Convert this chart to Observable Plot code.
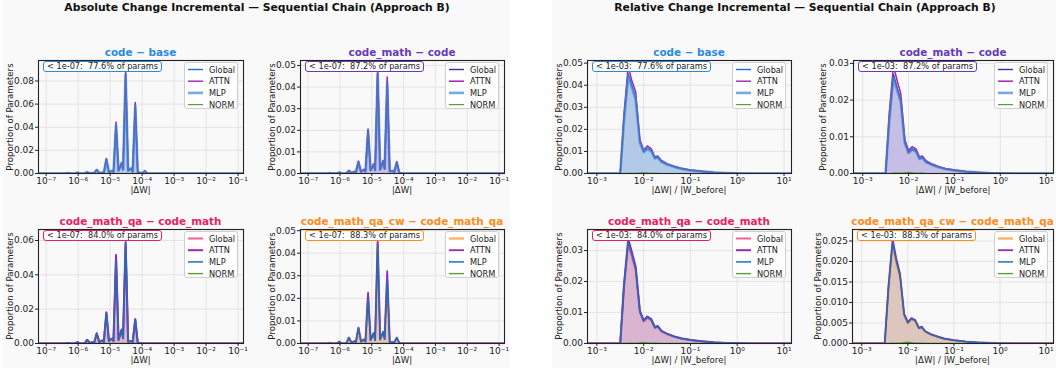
<!DOCTYPE html>
<html><head><meta charset="utf-8">
<script src="https://cdn.jsdelivr.net/npm/d3@7"></script>
<script src="https://cdn.jsdelivr.net/npm/@observablehq/plot@0.6"></script>
<style>
body{margin:0;background:#fff;font-family:"DejaVu Sans",sans-serif;}
#root{position:relative;width:1056px;height:375px;overflow:hidden;background:#fff;}
#root div{position:absolute;white-space:pre;}
svg{position:absolute;overflow:visible;}
</style></head><body><div id="root"></div>
<script>
// ---------- data ----------
const figTitles = ["Absolute Change Incremental — Sequential Chain (Approach B)", "Relative Change Incremental — Sequential Chain (Approach B)"];
const panelTitles = ["code − base", "code_math − code", "code_math_qa − code_math", "code_math_qa_cw − code_math_qa"];
const belowPct = ["77.6%", "87.2%", "84.0%", "88.3%"];
const seriesNames = ["Global", "ATTN", "MLP", "NORM"];

const absTicks = [1e-7, 1e-6, 1e-5, 1e-4, 1e-3, 1e-2, 1e-1];
const relTicks = [1e-3, 1e-2, 1e-1, 1, 10];

const absBins = [5.8e-8, 3.96e-7, 4.77e-7, 5.72e-7, 7.9e-7, 9.54e-7, 1.14e-6, 1.58e-6, 1.91e-6, 2.29e-6, 2.86e-6, 3.17e-6, 3.81e-6, 4.58e-6, 5.72e-6, 6.33e-6, 7.63e-6, 9.16e-6, 1.14e-5, 1.27e-5, 1.53e-5, 1.83e-5, 2.29e-5, 2.53e-5, 3.05e-5, 3.66e-5, 4.58e-5, 5.06e-5, 6.1e-5, 7.3e-5, 9.2e-5, 1.01e-4, 1.22e-4, 1.46e-4, 0.148];

const absCodeBaseGlobal = [0,0,0.0004,0,0, 0.0008,0,0,0.0012,0.0002, 0.0004,0.0003,0.0032,0.0004,0.0008, 0.0005,0.0125,0.0012,0.0022,0.0012, 0.0425,0.0025,0.009,0.0035,0.0865, 0.0025,0.0045,0.0015,0.0595,0.0012, 0.0004,0.0003,0.0022,0,0];
const absCodeBaseAttn = [0,0,0.0004,0,0, 0.0008,0,0,0.0012,0.0002, 0.0004,0.0003,0.0033,0.0004,0.0008, 0.0005,0.013,0.0012,0.0023,0.0012, 0.0445,0.0026,0.0095,0.0036,0.089, 0.0026,0.0046,0.0015,0.0615,0.0012, 0.0004,0.0003,0.0023,0,0];
const absCodeBaseMlp = [0,0,0.0004,0,0, 0.0008,0,0,0.0012,0.0002, 0.0004,0.0003,0.0031,0.0004,0.0008, 0.0005,0.0122,0.0012,0.0021,0.0012, 0.0418,0.0024,0.0088,0.0034,0.0855, 0.0024,0.0044,0.0015,0.0588,0.0012, 0.0004,0.0003,0.0021,0,0];

const absMathGlobal = [0,0,0.0002,0,0, 0.0005,0,0,0.0013,0.0003, 0.0008,0.0006,0.0055,0.0008,0.0018, 0.0009,0.0200,0.0015,0.0042,0.0015, 0.0465,0.0018,0.0058,0.0022,0.0425, 0.0010,0.0012,0.0006,0.0052,0.0003, 0,0,0,0,0];
const absMathAttn = [0,0,0.0002,0,0, 0.0005,0,0,0.0013,0.0003, 0.0008,0.0006,0.0057,0.0008,0.0018, 0.0009,0.0206,0.0015,0.0044,0.0015, 0.0485,0.0019,0.006,0.0022,0.0447, 0.0010,0.0012,0.0006,0.0055,0.0003, 0,0,0,0,0];
const absMathMlp = [0,0,0.0002,0,0, 0.0005,0,0,0.0013,0.0003, 0.0008,0.0006,0.0054,0.0008,0.0018, 0.0009,0.0197,0.0015,0.0041,0.0015, 0.046,0.0018,0.0057,0.0022,0.042, 0.0010,0.0012,0.0006,0.0051,0.0003, 0,0,0,0,0];

const absQaGlobal = [0,0,0.0003,0,0, 0.0008,0,0,0.0022,0.0003, 0.0008,0.0005,0.0058,0.0008,0.0018, 0.0008,0.0178,0.0015,0.0028,0.0015, 0.049,0.0020,0.0080,0.0030,0.059, 0.0010,0.0015,0.0008,0.0140,0.0004, 0,0,0,0,0];
const absQaAttn = [0,0,0.0003,0,0, 0.0008,0,0,0.0022,0.0003, 0.0008,0.0005,0.006,0.0008,0.0018, 0.0008,0.0182,0.0015,0.0029,0.0015, 0.0515,0.0021,0.0082,0.0031,0.058, 0.0010,0.0015,0.0008,0.0142,0.0004, 0,0,0,0,0];
const absQaMlp = [0,0,0.0003,0,0, 0.0008,0,0,0.0022,0.0003, 0.0008,0.0005,0.0057,0.0008,0.0018, 0.0008,0.0177,0.0015,0.0028,0.0015, 0.0488,0.002,0.0079,0.003,0.0595, 0.001,0.0015,0.0008,0.0139,0.0004, 0,0,0,0,0];

const absCwGlobal = [0,0,0.0002,0,0, 0.0008,0,0,0.0025,0.0004, 0.0010,0.0006,0.0068,0.0008,0.0018, 0.0008,0.0210,0.0015,0.0045,0.0015, 0.0440,0.0018,0.0050,0.0020,0.0280, 0.0004,0.0006,0.0004,0.0025,0.0002, 0,0,0,0,0];
const absCwAttn = [0,0,0.0002,0,0, 0.0008,0,0,0.0026,0.0004, 0.001,0.0006,0.007,0.0008,0.0018, 0.0008,0.0225,0.0015,0.0046,0.0015, 0.0455,0.0018,0.0052,0.002,0.032, 0.0004,0.0006,0.0004,0.0026,0.0002, 0,0,0,0,0];
const absCwMlp = [0,0,0.0002,0,0, 0.0008,0,0,0.0025,0.0004, 0.001,0.0006,0.0067,0.0008,0.0018, 0.0008,0.0205,0.0015,0.0044,0.0015, 0.0435,0.0018,0.0049,0.002,0.0285, 0.0004,0.0006,0.0004,0.0025,0.0002, 0,0,0,0,0];

const absNorm = [0,0,0,0,0, 0,0,0,0,0, 0,0,0,0,0, 0,0,0,0,0, 0,0,0,0,0, 0,0,0,0,0, 0,0,0,0,0];

const relBins = [6.31e-4, 3.16e-3, 3.8e-3, 4.68e-3, 5.6e-3, 6.76e-3, 8.3e-3, 1.0e-2, 1.2e-2, 1.45e-2, 1.74e-2, 2.0e-2, 2.4e-2, 3.16e-2, 4.5e-2, 6.3e-2, 0.1, 0.178, 0.316, 0.56, 1.0, 2.0, 4.0, 14.45];

const relCodeBaseGlobal = [0,0,0.025,0.0455,0.040,0.0345,0.0145,0.0100,0.0115,0.0105,0.0070,0.0075,0.0055,0.0042,0.0031,0.0023,0.0015,0.0009,0.0005,0.00025,0.0001,0.00003,0,0];
const relCodeBaseAttn = [0,0,0.027,0.049,0.042,0.037,0.0155,0.0107,0.0125,0.0113,0.0076,0.0080,0.0059,0.0045,0.0033,0.0024,0.0016,0.0010,0.0005,0.00028,0.0001,0.00003,0,0];
const relCodeBaseMlp = [0,0,0.024,0.0445,0.039,0.0335,0.014,0.0097,0.0111,0.0102,0.0068,0.0072,0.0053,0.0041,0.003,0.0022,0.0014,0.0009,0.0005,0.00025,0.0001,0.00003,0,0];

const relMathGlobal = [0,0,0.015,0.027,0.0235,0.020,0.0085,0.0058,0.0067,0.0062,0.0041,0.0044,0.0032,0.0025,0.0018,0.0013,0.0009,0.0005,0.0003,0.00015,0.00006,0.00002,0,0];
const relMathAttn = [0,0,0.0165,0.0293,0.0255,0.0218,0.0093,0.0063,0.0073,0.0067,0.0045,0.0048,0.0035,0.0027,0.0019,0.0014,0.00095,0.00055,0.0003,0.00016,0.00006,0.00002,0,0];
const relMathMlp = [0,0,0.0145,0.0262,0.0228,0.0195,0.0082,0.0056,0.0065,0.006,0.004,0.0043,0.0031,0.0024,0.0017,0.00125,0.00085,0.0005,0.0003,0.00014,0.00005,0.00002,0,0];

const relQaGlobal = [0,0,0.018,0.032,0.028,0.0235,0.0100,0.0071,0.0082,0.0075,0.0050,0.0054,0.0039,0.0030,0.0022,0.0016,0.0011,0.00065,0.00035,0.00018,0.00007,0.00002,0,0];
const relQaAttn = [0,0,0.019,0.0338,0.0295,0.0248,0.0106,0.0075,0.0087,0.0079,0.0053,0.0057,0.0041,0.0032,0.0023,0.0017,0.0011,0.0007,0.00037,0.00019,0.00007,0.00002,0,0];
const relQaMlp = [0,0,0.0185,0.033,0.0288,0.0242,0.0103,0.0073,0.0085,0.0077,0.0051,0.0055,0.004,0.0031,0.0022,0.0016,0.0011,0.00065,0.00035,0.00018,0.00007,0.00002,0,0];

const relCwGlobal = [0,0,0.013,0.0238,0.0195,0.0160,0.0068,0.0048,0.0058,0.0053,0.0036,0.0038,0.0028,0.0021,0.0016,0.0011,0.00075,0.00045,0.00025,0.00012,0.00005,0.00001,0,0];
const relCwAttn = [0,0,0.0138,0.0254,0.0208,0.0171,0.0073,0.0052,0.0062,0.0057,0.0038,0.0041,0.003,0.0023,0.0017,0.0012,0.0008,0.00048,0.00027,0.00013,0.00005,0.00001,0,0];
const relCwMlp = [0,0,0.0134,0.0246,0.0201,0.0165,0.007,0.005,0.006,0.0055,0.0037,0.0039,0.0029,0.0022,0.0016,0.0011,0.00078,0.00046,0.00026,0.00012,0.00005,0.00001,0,0];

const relNorm = [0,0,0,0.0001,0.0001,0.0001,0.0002,0.0003,0.0002,0.0001,0.0001,0.0001,0,0,0,0,0,0,0,0,0,0,0,0];

const yTicksList = [[0,0.02,0.04,0.06,0.08],[0,0.01,0.02,0.03,0.04,0.05],[0,0.02,0.04,0.06],[0,0.01,0.02,0.03,0.04,0.05],
                    [0,0.01,0.02,0.03,0.04,0.05],[0,0.01,0.02,0.03],[0,0.01,0.02,0.03],[0,0.005,0.01,0.015,0.02,0.025]];
const yTops = [0.0977, 0.0523, 0.0664, 0.0505, 0.0512, 0.0308, 0.0368, 0.0278];

// ---------- styling ----------
const titleColors = ["#2b8ae0", "#673ab7", "#e91e63", "#ff8c1a"];
const globalColors = ["#1f6fd0", "#4527a0", "#f06292", "#ffb066"];
const fillColors = ["#b3c9e8", "#c6bee4", "#d9b5d0", "#dcc6be"];
const attnColor = "#9c27b0", normColor = "#5a9e3a";
const mlpColors = ["#3a87d0", "#3a87d0", "#1f6fb8", "#1f6fb8"];
const mlpOpacity = [0.7, 0.7, 1, 1];
const widths = [ // global, attn, mlp, norm
  [1.4, 1.4, 2.6, 1.2], [1.4, 1.5, 2.6, 1.2], [2.0, 2.0, 1.5, 1.4], [2.4, 1.8, 1.5, 1.4]];

const frames = [
  {L:38,T:60,W:205,H:113,yl:10},{L:300,T:60,W:204,H:113,yl:272},
  {L:38,T:229,W:205,H:114,yl:10},{L:300,T:229,W:204,H:114,yl:272},
  {L:587,T:60,W:204,H:113,yl:559},{L:853,T:60,W:200,H:113,yl:823},
  {L:587,T:229,W:204,H:114,yl:559},{L:852,T:229,W:201,H:114,yl:818}];

const root = document.getElementById("root");
function addDiv(parent, css, text){const d=document.createElement("div");d.style.cssText=css;if(text!=null)d.textContent=text;parent.appendChild(d);return d;}

addDiv(root, "left:3px;top:0;width:507px;height:368px;background:#f9f9f9;");
addDiv(root, "left:552px;top:0;width:504px;height:368px;background:#f9f9f9;");
addDiv(root, "left:257px;top:7px;transform:translate(-50%,-50%);font-weight:bold;font-size:10.8px;color:#111;", figTitles[0]);
addDiv(root, "left:805px;top:7px;transform:translate(-50%,-50%);font-weight:bold;font-size:10.8px;color:#111;", figTitles[1]);

const SUP = {"-":"⁻","0":"⁰","1":"¹","2":"²","3":"³","4":"⁴","5":"⁵","6":"⁶","7":"⁷","8":"⁸","9":"⁹"};
const pow10 = d => "10" + String(Math.round(Math.log10(d))).split("").map(c => SUP[c]).join("");

const absSets = [[absCodeBaseGlobal,absCodeBaseAttn,absCodeBaseMlp],[absMathGlobal,absMathAttn,absMathMlp],[absQaGlobal,absQaAttn,absQaMlp],[absCwGlobal,absCwAttn,absCwMlp]];
const relSets = [[relCodeBaseGlobal,relCodeBaseAttn,relCodeBaseMlp],[relMathGlobal,relMathAttn,relMathMlp],[relQaGlobal,relQaAttn,relQaMlp],[relCwGlobal,relCwAttn,relCwMlp]];
const NS = "http://www.w3.org/2000/svg";

for (let p = 0; p < 8; p++) {
  const isRel = p >= 4, k = p % 4, f = frames[p];
  const bins = isRel ? relBins : absBins;
  const [g, a, m] = isRel ? relSets[k] : absSets[k];
  const n = isRel ? relNorm : absNorm;
  const data = bins.map((x, i) => ({x, g: g[i], a: a[i], m: m[i], n: n[i]}));
  const xTicks = isRel ? relTicks : absTicks;
  const xDomain = isRel ? [6.31e-4, 14.45] : [5.75e-8, 0.148];
  const yTicks = yTicksList[p];
  const yFmt = d3.format(p === 7 ? ".3f" : ".2f");
  const [wg, wa, wm, wn] = widths[k];
  const mL = 40, mR = 4, mT = 4, mB = 22;
  const chart = Plot.plot({
    width: f.W + mL + mR, height: f.H + mT + mB,
    marginLeft: mL, marginRight: mR, marginTop: mT, marginBottom: mB,
    style: {background: "transparent", fontFamily: "DejaVu Sans", fontSize: "9px", color: "#222", overflow: "visible"},
    x: {type: "log", domain: xDomain},
    y: {domain: [0, yTops[p]]},
    marks: [
      Plot.gridX(xTicks, {stroke: "#dedede", strokeOpacity: 1, strokeWidth: 0.8}),
      Plot.gridY(yTicks, {stroke: "#dedede", strokeOpacity: 1, strokeWidth: 0.8}),
      Plot.areaY(data, {x:"x", y:"g", fill: fillColors[k], clip: true}),
      Plot.line(data, {x:"x", y:"n", stroke: normColor, strokeWidth: wn, clip: true}),
      Plot.line(data, {x:"x", y:"g", stroke: globalColors[k], strokeWidth: wg, clip: true}),
      Plot.line(data, {x:"x", y:"a", stroke: attnColor, strokeWidth: wa, clip: true}),
      Plot.line(data, {x:"x", y:"m", stroke: mlpColors[k], strokeOpacity: mlpOpacity[k], strokeWidth: wm, clip: true}),
      Plot.frame({stroke: "#222", strokeWidth: 1.1}),
      Plot.axisX(xTicks, {tickSize: 3, tickPadding: 1, tickFormat: pow10, label: null, stroke: "#222"}),
      Plot.axisY(yTicks, {tickSize: 3, tickPadding: 1.5, tickFormat: yFmt, label: null, stroke: "#222"})
    ]
  });
  chart.style.position = "absolute";
  chart.style.left = (f.L - mL) + "px";
  chart.style.top = (f.T - mT) + "px";
  root.appendChild(chart);

  const cx = f.L + f.W / 2;
  addDiv(root, `left:${cx}px;top:${f.T - 8}px;transform:translate(-50%,-50%);font-weight:bold;font-size:10.4px;line-height:12px;color:${titleColors[k]};`, panelTitles[k]);
  addDiv(root, `left:${f.yl}px;top:${f.T + f.H / 2}px;transform:translate(-50%,-50%) rotate(-90deg);font-size:8.6px;color:#222;`, "Proportion of Parameters");
  addDiv(root, `left:${cx}px;top:${f.T + f.H + 17}px;transform:translate(-50%,-50%);font-size:8.6px;color:#222;`, isRel ? "|ΔW| / |W_before|" : "|ΔW|");
  addDiv(root, `left:${f.L + 5}px;top:${f.T + 1}px;height:11px;box-sizing:border-box;border:1px solid ${titleColors[k]};border-radius:3px;background:#fff;padding:0 3px;font-size:8.2px;line-height:9px;color:#222;`,
    (isRel ? "< 1e-03:  " : "< 1e-07:  ") + belowPct[k] + " of params");
  const lg = addDiv(root, `left:${f.L + f.W - 59}px;top:${f.T + 2}px;width:54px;height:47px;box-sizing:border-box;border:1px solid #cfcfcf;border-radius:3px;background:rgba(255,255,255,0.85);`);
  const cols = [globalColors[k], attnColor, mlpColors[k], normColor];
  const ops = [1, 1, mlpOpacity[k], 1];
  const sw = document.createElementNS(NS, "svg");
  sw.setAttribute("width", "20"); sw.setAttribute("height", "46");
  sw.style.cssText = "position:absolute;left:0;top:0;";
  seriesNames.forEach((s, i) => {
    const yc = 6.5 + i * 11.7;
    const ln = document.createElementNS(NS, "line");
    ln.setAttribute("x1", 3); ln.setAttribute("x2", 18);
    ln.setAttribute("y1", yc); ln.setAttribute("y2", yc);
    ln.setAttribute("stroke", cols[i]); ln.setAttribute("stroke-width", widths[k][i]);
    ln.setAttribute("stroke-opacity", ops[i]);
    sw.appendChild(ln);
    addDiv(lg, `left:24px;top:${yc - 5}px;font-size:8.2px;line-height:10px;color:#222;`, s);
  });
  lg.appendChild(sw);
}
</script></body></html>
